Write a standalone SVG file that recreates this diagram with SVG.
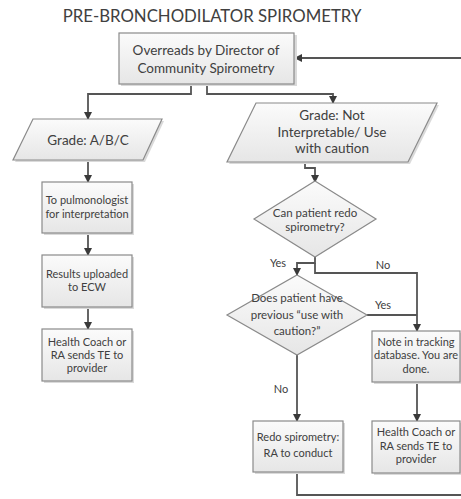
<svg xmlns="http://www.w3.org/2000/svg" width="461" height="499" viewBox="0 0 461 499">
<defs>
<linearGradient id="g" x1="0" y1="0" x2="0" y2="1">
<stop offset="0" stop-color="#fbfbfb"/>
<stop offset="1" stop-color="#e6e6e6"/>
</linearGradient>
<marker id="ah" markerWidth="8" markerHeight="8" refX="7" refY="4" orient="auto" markerUnits="userSpaceOnUse">
<path d="M0,0 L8,4 L0,8 Z" fill="#3a3a3a"/>
</marker>
</defs>
<style>
.shape{fill:url(#g);stroke:#8a8a8a;stroke-width:1.2}
.shadow{fill:#dadada;stroke:none}
.t{font-family:Lato,"Open Sans","Liberation Sans",sans-serif;fill:#404040;text-anchor:middle}
.c{fill:none;stroke:#555;stroke-width:1.8}
.ca{fill:none;stroke:#555;stroke-width:1.8;marker-end:url(#ah)}
.lbl{font-family:Lato,"Open Sans","Liberation Sans",sans-serif;fill:#404040;font-size:11px;text-anchor:middle}
</style>
<text class="t" x="212" y="22" font-size="16.8">PRE-BRONCHODILATOR SPIROMETRY</text>

<g id="connectors">
<path class="ca" d="M461,58 L295,58"/>
<path class="ca" d="M191,84 L191,94 L88,94 L88,119"/>
<path class="ca" d="M207,84 L207,94 L333,94 L333,103"/>
<path class="ca" d="M88,160 L88,182"/>
<path class="ca" d="M88,233 L88,255"/>
<path class="ca" d="M88,307 L88,329"/>
<path class="ca" d="M305,162 L305,168 L315,168 L315,182"/>
<path class="ca" d="M315,257 L315,263 L297,263 L297,275"/>
<path class="ca" d="M315,263 L315,273 L417,273 L417,331"/>
<path class="c" d="M367,315 L417,315"/>
<path class="ca" d="M297,355 L297,421"/>
<path class="ca" d="M417,382 L417,421"/>
<path class="c" d="M297,472 L297,495 L461,495"/>
<text class="lbl" x="278" y="267">Yes</text>
<text class="lbl" x="383" y="269">No</text>
<text class="lbl" x="383" y="309">Yes</text>
<text class="lbl" x="281" y="393">No</text>
</g>

<g id="overreads">
<rect class="shadow" x="121" y="35" width="176" height="51"/>
<rect class="shape" x="119" y="33" width="175" height="51"/>
<text class="t" font-size="13.5" x="206" y="54.5">Overreads by Director of</text>
<text class="t" font-size="13.5" x="206" y="72.5">Community Spirometry</text>
</g>

<g id="grade-abc">
<polygon class="shadow" points="35,121 164,121 145,162 15,162"/>
<polygon class="shape" points="33,119 162,119 143,160 13,160"/>
<text class="t" font-size="13.5" x="88" y="144.5">Grade: A/B/C</text>
</g>

<g id="pulmonologist">
<rect class="shadow" x="44" y="184" width="90" height="51"/>
<rect class="shape" x="42" y="182" width="90" height="51"/>
<text class="t" font-size="11" x="87" y="204">To pulmonologist</text>
<text class="t" font-size="11" x="87" y="218">for interpretation</text>
</g>

<g id="results">
<rect class="shadow" x="44" y="257" width="90" height="52"/>
<rect class="shape" x="42" y="255" width="90" height="52"/>
<text class="t" font-size="11" x="87" y="278">Results uploaded</text>
<text class="t" font-size="11" x="87" y="291">to ECW</text>
</g>

<g id="healthcoach-left">
<rect class="shadow" x="44" y="331" width="90" height="52"/>
<rect class="shape" x="42" y="329" width="90" height="52"/>
<text class="t" font-size="11" x="87" y="346">Health Coach or</text>
<text class="t" font-size="11" x="87" y="359">RA sends TE to</text>
<text class="t" font-size="11" x="87" y="372">provider</text>
</g>

<g id="grade-not">
<polygon class="shadow" points="258,105 439,105 410,164 229,164"/>
<polygon class="shape" points="256,103 437,103 408,162 227,162"/>
<text class="t" font-size="13.5" x="332" y="119.5">Grade: Not</text>
<text class="t" font-size="13.5" x="332" y="136.5">Interpretable/ Use</text>
<text class="t" font-size="13.5" x="332" y="153">with caution</text>
</g>

<g id="can-redo">
<polygon class="shape" points="315,181 376,219 315,257 254,219"/>
<text class="t" font-size="11.5" x="315" y="217">Can patient redo</text>
<text class="t" font-size="11.5" x="315" y="231">spirometry?</text>
</g>

<g id="previous-caution">
<polygon class="shape" points="297,275 367,315 297,355 227,315"/>
<text class="t" font-size="11.5" x="297" y="302">Does patient have</text>
<text class="t" font-size="11.5" x="297" y="319">previous “use with</text>
<text class="t" font-size="11.5" x="297" y="335">caution?”</text>
</g>

<g id="note-tracking">
<rect class="shadow" x="374" y="333" width="88" height="51"/>
<rect class="shape" x="372" y="331" width="88" height="51"/>
<text class="t" font-size="11" x="416" y="346">Note in tracking</text>
<text class="t" font-size="11" x="416" y="359">database. You are</text>
<text class="t" font-size="11" x="416" y="373">done.</text>
</g>

<g id="redo">
<rect class="shadow" x="255" y="423" width="90" height="51"/>
<rect class="shape" x="253" y="421" width="90" height="51"/>
<text class="t" font-size="11" x="298" y="441">Redo spirometry:</text>
<text class="t" font-size="11" x="298" y="457">RA to conduct</text>
</g>

<g id="healthcoach-right">
<rect class="shadow" x="374" y="423" width="88" height="52"/>
<rect class="shape" x="372" y="421" width="88" height="52"/>
<text class="t" font-size="11" x="416" y="436">Health Coach or</text>
<text class="t" font-size="11" x="416" y="450">RA sends TE to</text>
<text class="t" font-size="11" x="416" y="463">provider</text>
</g>
</svg>
